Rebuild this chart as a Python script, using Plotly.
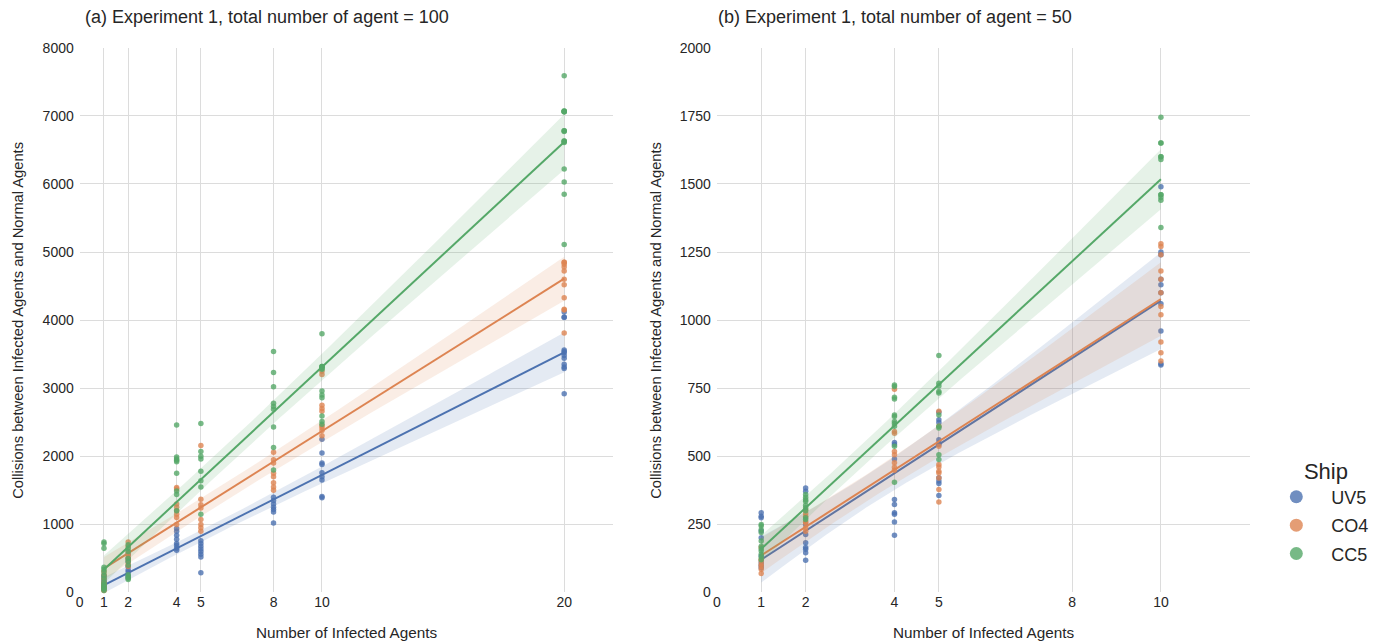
import numpy as np
import plotly.graph_objects as go

SHIPS = ["UV5", "CO4", "CC5"]
COLORS = {"UV5": "#4C72B0", "CO4": "#DD8452", "CC5": "#55A868"}

# ---------------- Panel (a): total number of agent = 100 ----------------
A_X = [1, 2, 4, 5, 8, 10, 20]
A_XTICKS = [0, 1, 2, 4, 5, 8, 10, 20]
A_UV5 = [
    [250, 220, 180, 150, 120, 100, 80, 60],
    [560, 500, 450, 380, 330, 300, 250, 220],
    [940, 900, 840, 780, 720, 690, 650, 620],
    [760, 720, 680, 640, 600, 560, 520, 290],
    [1400, 1350, 1300, 1250, 1220, 1180, 1020],
    [2250, 2050, 1900, 1880, 1760, 1700, 1650, 1410, 1390],
    [4120, 4045, 4040, 3560, 3540, 3520, 3480, 3440, 3350, 3310, 3290, 2920],
]
A_CO4 = [
    [310, 260, 200, 150, 120, 90, 60, 40, 30],
    [740, 680, 600, 560, 520, 480, 420, 380],
    [1540, 1520, 1300, 1250, 1200, 1150, 1100, 1000],
    [2160, 1370, 1290, 1240, 1070, 1000, 950, 900],
    [2060, 1950, 1900, 1750, 1700, 1610, 1550, 1500],
    [3250, 3200, 2750, 2700, 2660, 2450, 2420, 2380, 2300],
    [4850, 4850, 4820, 4780, 4720, 4600, 4520, 4330, 4160, 4150, 3810],
]
A_CC5 = [
    [740, 720, 650, 370, 340, 300, 250, 200, 150, 120, 100, 80, 60, 50, 30],
    [700, 650, 600, 500, 460, 400, 260, 230, 210, 190],
    [2460, 1990, 1960, 1940, 1920, 1750, 1490, 1440, 1200],
    [2480, 2070, 2000, 1960, 1780, 1640, 1550, 1150],
    [3540, 3230, 3020, 2780, 2730, 2690, 2430, 2130, 1800],
    [3800, 3320, 3320, 3310, 3290, 3280, 2960, 2900, 2860, 2590, 2510, 2470],
    [7590, 7070, 7070, 7060, 7060, 7060, 6780, 6780, 6770, 6630, 6630, 6620,
     6610, 6220, 6030, 5850, 5110],
]

# ---------------- Panel (b): total number of agent = 50 ----------------
B_X = [1, 2, 4, 5, 10]
B_XTICKS = [0, 1, 2, 4, 5, 8, 10]
B_UV5 = [
    [293, 280, 274, 226, 201, 134, 110, 100, 91],
    [384, 372, 250, 213, 183, 165, 159, 146, 118],
    [551, 543, 490, 341, 323, 293, 287, 259, 210],
    [662, 634, 624, 561, 549, 543, 421, 409, 400, 356],
    [1490, 1250, 1240, 1150, 1130, 1100, 1060, 960, 840, 835],
]
B_CO4 = [
    [165, 122, 116, 104, 95, 85, 70],
    [305, 290, 280, 260, 256, 238, 225],
    [746, 591, 585, 518, 506, 476, 460, 449],
    [665, 610, 537, 470, 461, 445, 439, 420, 378, 332],
    [1280, 1270, 1240, 1180, 1150, 1100, 1050, 1020, 920, 880, 850],
]
B_CC5 = [
    [250, 244, 230, 220, 189, 170, 160, 152, 140, 130, 120],
    [360, 350, 340, 335, 320, 311, 300, 274, 268],
    [762, 756, 717, 710, 652, 646, 628, 620, 610, 537, 405],
    [870, 768, 758, 738, 732, 652, 610, 604, 506, 488],
    [1745, 1650, 1650, 1600, 1600, 1590, 1460, 1460, 1450, 1440, 1340],
]

TITLE_A = "(a) Experiment 1, total number of agent = 100"
TITLE_B = "(b) Experiment 1, total number of agent = 50"
XLABEL = "Number of Infected Agents"
YLABEL = "Collisions between Infected Agents and Normal Agents"
LEGEND_TITLE = "Ship"

FONT = "Liberation Sans, Arial, Helvetica, sans-serif"
TXT = "#262626"
NB = "\u00a0"
Z_BAND = 3.29  # width multiplier of the confidence band

# figure sits inside the default 8px body margin
OFF = 8
W, H = 1372, 643
# capture mapping (page -> picture) observed: x' = SX*x + BX, y' = SY*y + BY
SX, BX = 0.9954, 4.4
SY, BY = 0.9756, 8.44


def px(xr):
    """paper x for a target picture x"""
    return ((xr - BX) / SX - OFF) / W


def py(yr):
    """paper y for a target picture y"""
    return (H - ((yr - BY) / SY - OFF)) / H


def hex_rgba(h, a):
    h = h.lstrip("#")
    return "rgba(%d,%d,%d,%s)" % (int(h[0:2], 16), int(h[2:4], 16), int(h[4:6], 16), a)


def flatten(xs, groups):
    xx, yy = [], []
    for x, g in zip(xs, groups):
        for v in g:
            xx.append(x)
            yy.append(v)
    return np.array(xx, float), np.array(yy, float)


def fit_band(x, y):
    X = np.column_stack([np.ones_like(x), x])
    XtX_inv = np.linalg.inv(X.T @ X)
    beta = XtX_inv @ X.T @ y
    e = y - X @ beta
    n = len(x)
    meat = (X * (e ** 2)[:, None]).T @ X
    cov = XtX_inv @ meat @ XtX_inv * n / (n - 2)
    grid = np.linspace(x.min(), x.max(), 100)
    G = np.column_stack([np.ones_like(grid), grid])
    yhat = G @ beta
    se = np.sqrt(np.einsum("ij,jk,ik->i", G, cov, G))
    return grid, yhat, yhat - Z_BAND * se, yhat + Z_BAND * se


fig = go.Figure()


def add_panel(xs, series, xa, ya):
    for ship, groups in zip(SHIPS, series):
        c = COLORS[ship]
        x, y = flatten(xs, groups)
        fig.add_trace(go.Scatter(
            x=x, y=y, mode="markers", xaxis=xa, yaxis=ya,
            marker=dict(size=5.5, color=c, opacity=0.8, line=dict(width=0)),
            showlegend=False, hoverinfo="skip", cliponaxis=False))
        grid, yhat, lo, hi = fit_band(x, y)
        fig.add_trace(go.Scatter(
            x=np.concatenate([grid, grid[::-1]]),
            y=np.concatenate([hi, lo[::-1]]),
            fill="toself", fillcolor=hex_rgba(c, 0.15),
            line=dict(width=0), mode="lines", xaxis=xa, yaxis=ya,
            showlegend=False, hoverinfo="skip"))
        fig.add_trace(go.Scatter(
            x=grid, y=yhat, mode="lines", xaxis=xa, yaxis=ya,
            line=dict(color=c, width=2), showlegend=False, hoverinfo="skip"))


add_panel(A_X, [A_UV5, A_CO4, A_CC5], "x", "y")
add_panel(B_X, [B_UV5, B_CO4, B_CC5], "x2", "y2")

for ship in SHIPS:
    fig.add_trace(go.Scatter(
        x=[None], y=[None], mode="markers", name=NB * 2 + ship,
        legendgroup=ship,
        marker=dict(size=13, color=COLORS[ship], opacity=0.8)))

# target positions in the picture
L1, R1 = 80, 612
L2, R2 = 716, 1248
TOP, BOT = 48, 593

axis_common = dict(
    showgrid=True, gridcolor="#dcdcdc", gridwidth=1, zeroline=False,
    showline=False, ticks="", tickfont=dict(size=14, color=TXT, family=FONT),
)

fig.update_layout(
    width=W, height=H,
    margin=dict(l=0, r=0, t=0, b=0),
    paper_bgcolor="white", plot_bgcolor="white",
    font=dict(family=FONT, color=TXT),
    xaxis=dict(domain=[px(L1), px(R1)], range=[0, 22], tickmode="array",
               tickvals=A_XTICKS, anchor="y", **axis_common),
    yaxis=dict(domain=[py(BOT), py(TOP)], range=[0, 8000],
               dtick=1000, anchor="x", ticklabelstandoff=5, **axis_common),
    xaxis2=dict(domain=[px(L2), px(R2)], range=[0, 12], tickmode="array",
                tickvals=B_XTICKS, anchor="y2", **axis_common),
    yaxis2=dict(domain=[py(BOT), py(TOP)], range=[0, 2000],
                dtick=250, anchor="x2", ticklabelstandoff=5, **axis_common),
    legend=dict(
        x=(1271 - OFF) / W, y=(H - (453 - OFF)) / H, xanchor="left", yanchor="top",
        title=dict(text=NB * 5 + LEGEND_TITLE, font=dict(size=22, color=TXT, family=FONT)),
        font=dict(size=18, color=TXT, family=FONT),
        bgcolor="rgba(0,0,0,0)", itemwidth=40,
        traceorder="grouped", tracegroupgap=2,
    ),
)

annos = [
    dict(text=TITLE_A, x=px(83), y=py(17), xanchor="left", yanchor="middle",
         font=dict(size=18)),
    dict(text=TITLE_B, x=px(715), y=py(17), xanchor="left", yanchor="middle",
         font=dict(size=18)),
    dict(text=XLABEL, x=px((L1 + R1) / 2), y=py(633), xanchor="center",
         yanchor="middle", font=dict(size=15.3)),
    dict(text=XLABEL, x=px((L2 + R2) / 2), y=py(633), xanchor="center",
         yanchor="middle", font=dict(size=15.3)),
    dict(text=YLABEL, x=px(18), y=py((TOP + BOT) / 2), xanchor="center",
         yanchor="middle", textangle=-90, font=dict(size=14.7)),
    dict(text=YLABEL, x=px(655), y=py((TOP + BOT) / 2), xanchor="center",
         yanchor="middle", textangle=-90, font=dict(size=14.7)),
]
for a in annos:
    a.update(xref="paper", yref="paper", showarrow=False)
    a["font"].update(color=TXT, family=FONT)
fig.update_layout(annotations=annos)

fig.write_html("out.html", config={"displayModeBar": False})
